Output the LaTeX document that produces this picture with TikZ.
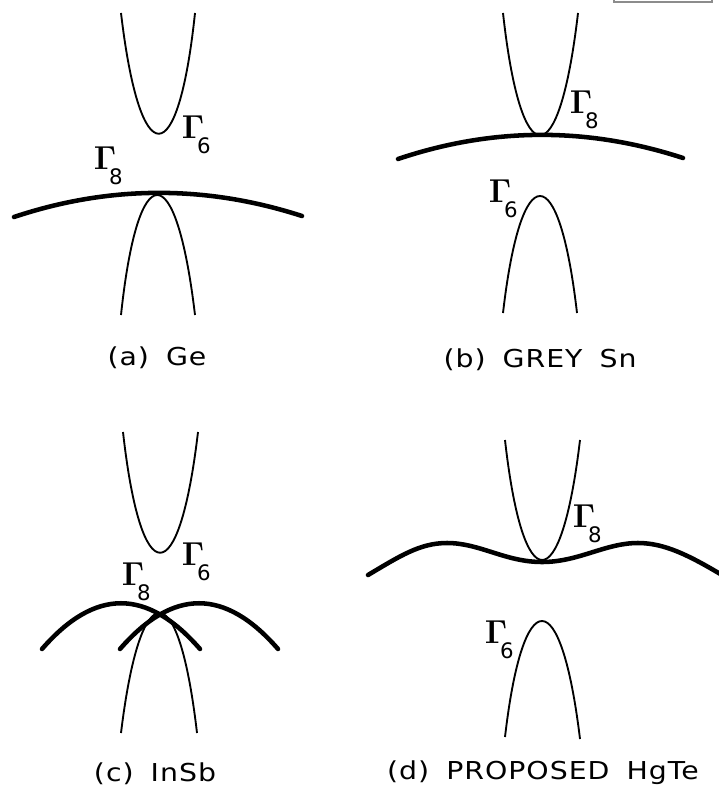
\documentclass[tikz,border=0pt]{standalone}
\usepackage[no-math]{fontspec}
\newfontfamily\leroy[FakeStretch=1.15,WordSpace=1.7,LetterSpace=4]{DejaVu Sans}
\newfontfamily\subfont{DejaVu Sans}
\usetikzlibrary{calc,positioning}
\tikzset{
    cband/.style={line width=1.4pt,draw=black},
    hband/.style={line width=3.4pt,draw=black,line cap=round},
    gam/.style={inner sep=0pt,font=\fontsize{24}{24}\selectfont},
    gamsub/.style={inner sep=0pt,font=\subfont\fontsize{16}{16}\selectfont},
    caption/.style={inner sep=0pt,anchor=base,font=\leroy\fontsize{18.5}{20}\selectfont}
}
\begin{document}
\begin{tikzpicture}[x=0.75pt,y=-0.75pt]
  \useasboundingbox (0,0) rectangle (718,795);
  % scan remnant, top right
  \draw[black!45,line width=0.8pt] (614,0) -- (614,2) -- (712,2) -- (712,0);

  % (a) Ge
  \draw[cband] (121,13) .. controls (140,174) and (178,174) .. (195,13);
  \draw[hband] (14,217) .. controls (110,185) and (206,185) .. (302,216);
  \draw[cband] (121,315) .. controls (138,155) and (176,155) .. (195,315);
  \node[gam] (ga6) at (193,127) {$\mathbf{\Gamma}$};
  \node[gamsub] at ($(ga6)+(11,19)$) {6};
  \node[gam] (ga8) at (105,158) {$\mathbf{\Gamma}$};
  \node[gamsub] at ($(ga8)+(11,19)$) {8};
  \node[caption] (capa) at (157,365) {(a) Ge};

  % (b) grey Sn
  \draw[cband] (503,13) .. controls (521,176) and (559,176) .. (578,13);
  \draw[hband] (398,159) .. controls (493,127) and (588,127) .. (683,158);
  \draw[cband] (503,313) .. controls (521,157) and (559,157) .. (577,313);
  \node[gam] (gb8) at (581,102) {$\mathbf{\Gamma}$};
  \node[gamsub] at ($(gb8)+(11,19)$) {8};
  \node[gam] (gb6) at (500,191) {$\mathbf{\Gamma}$};
  \node[gamsub] at ($(gb6)+(11,19)$) {6};
  \node[caption] (capb) at (540,367) {(b) GREY Sn};

  % (c) InSb
  \draw[cband] (123,432) .. controls (141,593) and (179,593) .. (198,432);
  \draw[hband] (42,649) .. controls (95,588) and (147,588) .. (200,649);
  \draw[hband] (120,649) .. controls (173,588) and (225,588) .. (278,649);
  \draw[cband] (121,733) .. controls (140.5,573) and (178.5,573) .. (197,733);
  \node[gam] (gc6) at (193,554) {$\mathbf{\Gamma}$};
  \node[gamsub] at ($(gc6)+(11,19)$) {6};
  \node[gam] (gc8) at (133,574) {$\mathbf{\Gamma}$};
  \node[gamsub] at ($(gc8)+(11,19)$) {8};
  \node[caption] (capc) at (155,781) {(c) InSb};

  % (d) proposed HgTe
  \draw[cband] (505,440) .. controls (523,600) and (561,600) .. (580,440);
  \draw[hband] (368,575) .. controls (400,556) and (420,543) .. (447,543)
    .. controls (480,543) and (505,562) .. (542,562)
    .. controls (579,562) and (605,543) .. (638,543)
    .. controls (665,543) and (690,556) .. (722,575);
  \draw[cband] (505,737) .. controls (523,582) and (561,582) .. (580,739);
  \node[gam] (gd8) at (584,516) {$\mathbf{\Gamma}$};
  \node[gamsub] at ($(gd8)+(11,19)$) {8};
  \node[gam] (gd6) at (496,632) {$\mathbf{\Gamma}$};
  \node[gamsub] at ($(gd6)+(11,19)$) {6};
  \node[caption] (capd) at (543,779) {(d) PROPOSED HgTe};
\end{tikzpicture}
\end{document}
